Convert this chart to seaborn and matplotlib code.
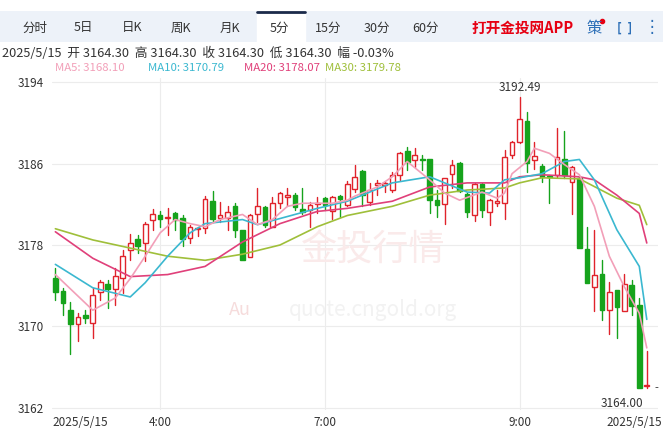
import numpy as np
import pandas as pd
import seaborn as sns
import matplotlib.pyplot as plt
from matplotlib.patches import Rectangle

# 5-minute candles, 2025/5/15
opens = [3174.8, 3173.5, 3171.6, 3170.2, 3171.1, 3170.3, 3173.4, 3174.2, 3173.7, 3174.8,
         3177.5, 3178.6, 3178.2, 3180.5, 3180.9, 3180.7, 3181.1, 3180.7, 3178.7, 3179.6,
         3179.7, 3182.3, 3180.7, 3180.7, 3181.8, 3179.5, 3176.8, 3181.0, 3181.7, 3179.8,
         3182.1, 3182.7, 3182.9, 3181.5, 3181.4, 3182.0, 3182.6, 3181.3, 3182.8, 3181.9,
         3183.5, 3185.3, 3182.2, 3183.9, 3183.9, 3183.4, 3184.9, 3187.2, 3186.3, 3186.4,
         3186.4, 3182.4, 3182.0, 3185.0, 3186.1, 3183.0, 3180.9, 3184.0, 3181.2, 3182.1,
         3182.1, 3186.8, 3188.1, 3190.2, 3186.3, 3185.8, 3184.8, 3184.9, 3186.4, 3184.2,
         3184.6, 3177.6, 3173.9, 3175.2, 3171.6, 3173.6, 3171.5, 3174.1, 3172.1, 3164.2]
closes = [3173.4, 3172.3, 3170.2, 3170.9, 3170.8, 3173.1, 3174.4, 3173.7, 3175.0, 3176.9,
          3178.2, 3177.9, 3180.1, 3181.0, 3180.6, 3180.8, 3180.5, 3178.6, 3179.8, 3179.7,
          3182.5, 3180.6, 3180.9, 3181.2, 3179.5, 3176.5, 3180.9, 3181.8, 3180.0, 3182.1,
          3183.1, 3182.9, 3181.7, 3181.2, 3181.9, 3182.1, 3181.9, 3182.7, 3182.5, 3184.0,
          3184.7, 3182.9, 3183.4, 3184.1, 3184.1, 3184.9, 3187.0, 3186.2, 3186.8, 3186.3,
          3182.4, 3181.9, 3184.6, 3185.9, 3183.3, 3181.2, 3184.0, 3181.4, 3182.4, 3182.3,
          3186.6, 3188.1, 3190.4, 3186.1, 3186.7, 3184.7, 3184.7, 3186.6, 3184.9, 3185.7,
          3177.7, 3174.3, 3175.1, 3171.6, 3173.4, 3171.9, 3174.2, 3172.0, 3164.0, 3164.3]
highs = [3175.7, 3173.8, 3172.4, 3171.3, 3171.6, 3173.8, 3174.6, 3174.6, 3175.7, 3177.5,
         3179.1, 3179.0, 3180.3, 3181.5, 3181.3, 3181.6, 3181.2, 3180.9, 3180.0, 3179.8,
         3182.8, 3183.3, 3182.2, 3181.8, 3182.1, 3179.5, 3181.0, 3183.6, 3181.8, 3182.7,
         3183.2, 3183.6, 3183.1, 3183.6, 3182.2, 3182.7, 3182.7, 3182.8, 3182.9, 3184.3,
         3185.9, 3185.4, 3184.1, 3184.4, 3184.2, 3185.2, 3187.1, 3187.6, 3187.5, 3186.8,
         3186.4, 3183.4, 3184.6, 3186.3, 3186.2, 3183.1, 3184.1, 3184.1, 3182.5, 3183.4,
         3187.3, 3188.2, 3192.49, 3191.1, 3188.1, 3186.0, 3184.9, 3189.5, 3189.2, 3185.8,
         3184.7, 3179.8, 3179.5, 3176.5, 3174.4, 3173.6, 3175.2, 3174.6, 3172.8, 3167.6]
lows = [3172.6, 3171.1, 3167.3, 3168.6, 3170.3, 3168.9, 3172.6, 3171.8, 3172.1, 3173.3,
        3176.5, 3177.2, 3176.4, 3179.5, 3179.8, 3179.0, 3179.5, 3177.9, 3178.2, 3178.9,
        3179.2, 3180.3, 3180.3, 3179.5, 3178.8, 3176.5, 3176.8, 3180.3, 3179.8, 3179.8,
        3181.6, 3181.8, 3181.4, 3181.0, 3179.8, 3181.1, 3181.4, 3180.6, 3180.8, 3181.8,
        3183.2, 3181.8, 3181.9, 3182.9, 3183.2, 3183.2, 3184.4, 3185.4, 3185.7, 3185.4,
        3181.1, 3180.8, 3180.1, 3183.6, 3183.2, 3180.8, 3180.4, 3180.8, 3180.0, 3181.8,
        3180.6, 3186.5, 3188.0, 3185.2, 3185.5, 3184.2, 3182.1, 3184.7, 3184.6, 3181.0,
        3177.7, 3174.3, 3171.5, 3170.6, 3169.3, 3168.9, 3171.5, 3171.1, 3164.0, 3164.0]

# moving averages, sampled at candle positions
ma5_idx = [0, 5, 8, 10, 12, 14, 16, 18, 20, 22, 25, 27, 29, 31, 33, 35, 37, 39, 40, 43,
           45, 47, 50, 52, 54, 57, 59, 60, 61, 63, 64, 66, 68, 70, 72, 74, 76, 78, 79]
ma5_val = [3175.1, 3171.6, 3172.8, 3174.7, 3176.9, 3179.2, 3180.5, 3180.1, 3179.8, 3180.5,
           3181.0, 3180.0, 3180.5, 3181.8, 3182.1, 3182.1, 3182.1, 3182.4, 3182.8, 3183.7,
           3184.7, 3186.2, 3184.4, 3183.1, 3182.4, 3183.2, 3182.6, 3183.1, 3185.0, 3186.2,
           3187.5, 3187.0, 3185.9, 3184.9, 3181.8, 3176.9, 3173.9, 3171.3, 3167.9]
ma10_idx = [0, 5, 10, 12, 15, 18, 20, 25, 27, 30, 35, 39, 40, 45, 50, 55, 58, 60, 62, 65,
            68, 70, 72, 75, 78, 79]
ma10_val = [3176.1, 3173.8, 3172.9, 3174.3, 3176.9, 3179.2, 3180.1, 3180.5, 3180.0, 3180.6,
            3181.6, 3182.3, 3182.6, 3184.1, 3184.7, 3183.2, 3183.1, 3184.4, 3184.6, 3185.0,
            3186.2, 3186.4, 3184.4, 3179.5, 3175.9, 3170.7]
ma20_idx = [0, 5, 10, 15, 20, 25, 30, 35, 39, 45, 50, 55, 60, 62, 65, 70, 72, 75, 78, 79]
ma20_val = [3179.3, 3176.7, 3174.9, 3175.1, 3175.9, 3178.3, 3180.1, 3181.3, 3181.6, 3182.3,
            3183.7, 3184.1, 3184.1, 3184.7, 3184.9, 3184.7, 3184.4, 3182.9, 3181.1, 3178.2]
ma30_idx = [0, 5, 10, 15, 20, 25, 30, 35, 39, 45, 50, 55, 60, 62, 65, 70, 75, 78, 79]
ma30_val = [3179.6, 3178.5, 3177.7, 3176.9, 3176.5, 3177.1, 3178.0, 3179.8, 3180.9, 3181.8,
            3182.9, 3183.4, 3183.6, 3184.1, 3184.6, 3184.5, 3182.6, 3181.9, 3180.0]

time_ticks = {14: "4:00", 36: "7:00", 62: "9:00"}
y_ticks = [3162, 3170, 3178, 3186, 3194]
tabs = ["分时", "5日", "日K", "周K", "月K", "5分", "15分", "30分", "60分"]

RED, GREEN = "#e0232b", "#16a31c"

sns.set_style("white")
plt.rcParams['font.family'] = ['Noto Sans CJK SC', 'DejaVu Sans']

W, H = 663, 429
fig = plt.figure(figsize=(W / 100, H / 100), dpi=100)

# tab bar
bar = fig.add_axes([0, 1 - 42 / H, 1, 31 / H])
bar.set_xlim(0, W); bar.set_ylim(0, 31); bar.axis("off")
bar.add_patch(Rectangle((0, 0), W, 31, color="#edf2f9"))
bar.add_patch(Rectangle((257, 0), 48, 31, color="white"))
bar.plot([257, 305], [30.3, 30.3], color="#1b2a4a", lw=2)
for i, t in enumerate(tabs):
    bar.text(35 + 48.8 * i, 14, t, ha="center", va="center", fontsize=9, color="#333333")
bar.text(472, 14, "打开金投网APP", ha="left", va="center", fontsize=10.5,
         color="#e60012", fontweight="bold")
bar.text(594, 14, "策", ha="center", va="center", fontsize=11, color="#2d6fb7")
bar.plot([602], [21], "o", color="#e60012", ms=3)
bar.text(625, 14, "[  ]", ha="center", va="center", fontsize=9, color="#2d6fb7", fontweight="bold")
bar.text(652, 14, "⋮", ha="center", va="center", fontsize=12, color="#2d6fb7")

fig.text(2 / W, 1 - 53 / H, "2025/5/15  开 3164.30  高 3164.30  收 3164.30  低 3164.30  幅 -0.03%",
         fontsize=9.2, color="#333333", va="center")
for x0, txt, c in [(55, "MA5: 3168.10", "#f29fb8"), (148, "MA10: 3170.79", "#3bb8d0"),
                   (244, "MA20: 3178.07", "#e0407a"), (325, "MA30: 3179.78", "#9fbf3a")]:
    fig.text(x0 / W, 1 - 68 / H, txt, fontsize=8.2, color=c, va="center")

ax = fig.add_axes([52 / W, 1 - 410 / H, 606 / W, 332 / H])
n = len(opens)
ax.set_xlim(-0.45, n + 0.5)
ax.set_ylim(3161.8, 3194.4)
for y in y_ticks:
    ax.axhline(y, color="#ececec", lw=0.8, zorder=0)
for i in time_ticks:
    ax.axvline(i, color="#ececec", lw=0.8, zorder=0)

# watermark
ax.text(0.53, 0.48, "金投行情", transform=ax.transAxes, fontsize=26, color="#faeaea",
        ha="center", va="center", zorder=0)
ax.text(0.53, 0.3, "quote.cngold.org", transform=ax.transAxes, fontsize=15, color="#f2f2f2",
        ha="center", va="center", zorder=0)
ax.text(0.31, 0.3, "Au", transform=ax.transAxes, fontsize=13, color="#f6dcdc",
        ha="center", va="center", zorder=0)

bw = 0.62
for i in range(n):
    o, c, h, l = opens[i], closes[i], highs[i], lows[i]
    up = c >= o
    col = RED if up else GREEN
    lo_b, hi_b = min(o, c), max(o, c)
    ax.plot([i, i], [l, lo_b], color=col, lw=1, zorder=2)
    ax.plot([i, i], [hi_b, h], color=col, lw=1, zorder=2)
    ax.add_patch(Rectangle((i - bw / 2, lo_b), bw, max(hi_b - lo_b, 0.08),
                           facecolor="white" if up else col, edgecolor=col, lw=1, zorder=3))

for idx, val, col in [(ma30_idx, ma30_val, "#9fbf3a"), (ma20_idx, ma20_val, "#e0407a"),
                      (ma10_idx, ma10_val, "#3bb8d0"), (ma5_idx, ma5_val, "#f29fb8")]:
    df = pd.DataFrame({"i": idx, "v": val})
    sns.lineplot(data=df, x="i", y="v", ax=ax, color=col, lw=1.2, zorder=4)

hi_i = int(np.argmax(highs))
ax.text(hi_i, highs[hi_i] + 0.3, f"{highs[hi_i]:.2f}", ha="center", va="bottom", fontsize=8.5, color="#333333")
ax.text(n - 1.5, 3162.4, "3164.00", ha="right", va="center", fontsize=8.5, color="#333333")
ax.text(n, 3164.0, "-", ha="left", va="center", fontsize=8, color="#333333")

ax.set_yticks(y_ticks)
ax.set_yticklabels([str(y) for y in y_ticks], fontsize=8.5, color="#333333")
ax.tick_params(axis="y", length=0, pad=6)
ax.set_xticks(list(time_ticks))
ax.set_xticklabels(list(time_ticks.values()), fontsize=8.5, color="#333333")
ax.tick_params(axis="x", length=0, pad=4)
ax.set_xlabel(""); ax.set_ylabel("")
fig.text(80 / W, 1 - 422 / H, "2025/5/15", fontsize=8.5, color="#333333", ha="center", va="center")
fig.text(634 / W, 1 - 422 / H, "2025/5/15", fontsize=8.5, color="#333333", ha="center", va="center")
for s in ax.spines.values():
    s.set_visible(False)

fig.savefig("out.png", dpi=100)
